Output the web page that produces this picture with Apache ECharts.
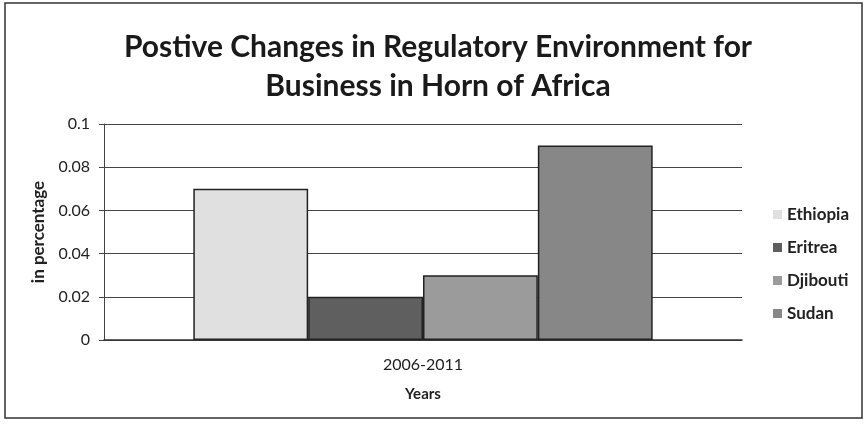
<!DOCTYPE html>
<html><head><meta charset="utf-8">
<script src="https://cdn.jsdelivr.net/npm/echarts@6/dist/echarts.min.js"></script>
<style>
html,body{margin:0;padding:0;background:#fff;}
#c{width:867px;height:424px;}
</style></head>
<body><div id="c"></div>
<script>
var categories = ['2006-2011'];
var seriesNames = ['Ethiopia', 'Eritrea', 'Djibouti', 'Sudan'];
var ethiopia = [0.07];
var eritrea = [0.02];
var djibouti = [0.03];
var sudan = [0.09];
var yTicks = [0, 0.02, 0.04, 0.06, 0.08, 0.1];

var colors = ['#e0e0e0', '#5f5f5f', '#9b9b9b', '#878787'];
var values = [ethiopia, eritrea, djibouti, sudan];
var font = 'Lato, "Open Sans", sans-serif';

var chart = echarts.init(document.getElementById('c'));
chart.setOption({
  animation: false,
  graphic: [{
    type: 'rect', z: -10, silent: true,
    shape: {x: 5, y: 3, width: 857, height: 415},
    style: {fill: 'none', stroke: '#333', lineWidth: 1.5}
  }],
  title: {
    text: 'Postive Changes in Regulatory Environment for\nBusiness in Horn of Africa',
    left: 433, textAlign: 'center', top: 23,
    textStyle: {fontFamily: font, fontSize: 30, fontWeight: 'bold', color: '#1a1a1a', lineHeight: 39}
  },
  legend: {
    orient: 'vertical', left: 768, top: 201, itemGap: 16,
    itemWidth: 9, itemHeight: 9, icon: 'rect',
    itemStyle: {borderWidth: 0},
    textStyle: {fontFamily: font, fontSize: 17, fontWeight: 'bold', color: '#222'},
    data: seriesNames
  },
  grid: {left: 104, right: 125, top: 124, bottom: 84},
  xAxis: {
    type: 'category', data: categories,
    name: 'Years', nameLocation: 'middle', nameGap: 47,
    nameTextStyle: {fontFamily: font, fontSize: 15, fontWeight: 'bold', color: '#222'},
    axisLine: {lineStyle: {color: '#333', width: 1.5}},
    axisTick: {show: false},
    axisLabel: {fontFamily: font, fontSize: 16, color: '#222', margin: 17}
  },
  yAxis: {
    type: 'value', min: 0, max: 0.1, interval: 0.02,
    name: 'in percentage', nameLocation: 'middle', nameGap: 54, nameRotate: 90,
    nameTextStyle: {fontFamily: font, fontSize: 17, fontWeight: 'bold', color: '#222'},
    axisLine: {show: true, lineStyle: {color: '#444', width: 1}},
    axisTick: {show: true, length: 5, lineStyle: {color: '#444'}},
    axisLabel: {fontFamily: font, fontSize: 16, color: '#222', margin: 14,
      formatter: function (v) { return String(Math.round(v * 100) / 100); }},
    splitLine: {lineStyle: {color: '#444', width: 1, type: 'solid'}}
  },
  series: seriesNames.map(function (n, i) {
    return {
      name: n, type: 'bar', data: values[i],
      barGap: '0%', barCategoryGap: '28%',
      itemStyle: {color: colors[i], borderColor: '#222', borderWidth: 1.5}
    };
  })
});
</script></body></html>
